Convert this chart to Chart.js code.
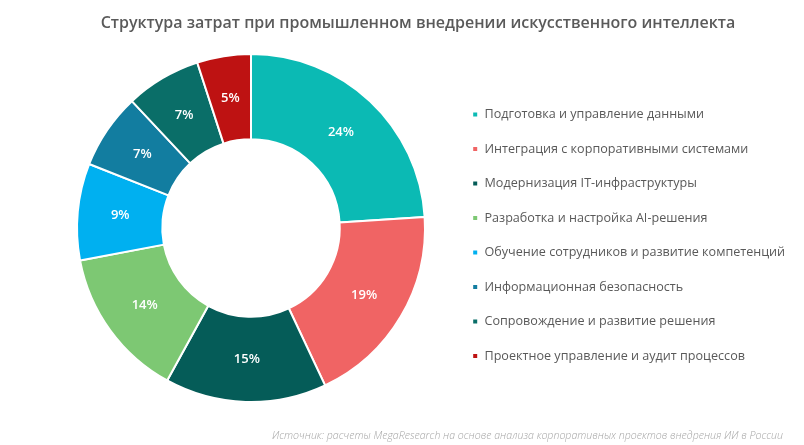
<!DOCTYPE html>
<html>
<head>
<meta charset="utf-8">
<script src="https://cdn.jsdelivr.net/npm/chart.js@4.4.1/dist/chart.umd.min.js"></script>
<style>
  html, body { margin: 0; padding: 0; background: #ffffff; }
  #wrap { position: relative; width: 804px; height: 445px; overflow: hidden; }
  #chart { position: absolute; left: 0; top: 0; }
  #title {
    position: absolute; top: 11px; left: 418px; transform: translateX(-50%);
    white-space: nowrap; font-family: "Open Sans", sans-serif; font-weight: 600;
    font-size: 16px; line-height: 22px; color: #5a5a5a;
  }
  #source {
    position: absolute; top: 428px; right: 21px; white-space: nowrap;
    font-family: "Open Sans", sans-serif; font-style: italic; font-weight: 300;
    font-size: 10.6px; line-height: 15px; color: #a6a6a6;
  }
</style>
</head>
<body>
<div id="wrap">
  <canvas id="chart" width="804" height="445"></canvas>
  <div id="title"></div>
  <div id="source"></div>
</div>
<script>
const chartTitle = "Структура затрат при промышленном внедрении искусственного интеллекта";
const sourceNote = "Источник: расчеты MegaResearch на основе анализа корпоративных проектов внедрения ИИ в России";
const categories = [
  "Подготовка и управление данными",
  "Интеграция с корпоративными системами",
  "Модернизация IT-инфраструктуры",
  "Разработка и настройка AI-решения",
  "Обучение сотрудников и развитие компетенций",
  "Информационная безопасность",
  "Сопровождение и развитие решения",
  "Проектное управление и аудит процессов"
];
const shares = [24, 19, 15, 14, 9, 7, 7, 5];
const sliceColors = ["#0bbab4", "#f06464", "#055c58", "#7dc873", "#00b0f0", "#127da0", "#0a6e68", "#be1212"];

document.getElementById('title').textContent = chartTitle;
document.getElementById('source').textContent = sourceNote;

const legendFontSize = 12.6;
const legendFont = "Open Sans";
const legendPad = 34.5 - legendFontSize;
const boxW = 6;

// measure legend text width to place the legend box at a fixed left edge
const mctx = document.createElement('canvas').getContext('2d');
mctx.font = legendFontSize + 'px "' + legendFont + '"';
let maxTextW = 0;
categories.forEach(c => { maxTextW = Math.max(maxTextW, mctx.measureText(c).width); });
const textStart = 484;
const legendLeft = textStart - legendPad - boxW - legendFontSize / 2 + 0.5;
const legendWidth = legendPad + boxW + legendFontSize / 2 + maxTextW + 10;
let padRight = 804 - legendLeft - legendWidth;
if (padRight < 0) padRight = 0;
const centerX = 251;
const padLeft = 2 * centerX - legendLeft;

const sliceLabels = {
  id: 'sliceLabels',
  afterDatasetsDraw(chart) {
    const ctx = chart.ctx;
    const meta = chart.getDatasetMeta(0);
    ctx.save();
    ctx.fillStyle = '#ffffff';
    ctx.font = '600 13px "Open Sans"';
    ctx.textAlign = 'center';
    ctx.textBaseline = 'middle';
    meta.data.forEach((arc, i) => {
      const p = arc.tooltipPosition(true);
      ctx.fillText(shares[i] + '%', p.x, p.y);
    });
    ctx.restore();
  }
};

new Chart(document.getElementById('chart'), {
  type: 'doughnut',
  data: {
    labels: categories,
    datasets: [{
      data: shares,
      backgroundColor: sliceColors,
      borderColor: '#ffffff',
      borderWidth: 2
    }]
  },
  options: {
    responsive: false,
    animation: false,
    cutout: '51%',
    layout: { padding: { top: 53, bottom: 42, left: padLeft, right: padRight } },
    plugins: {
      tooltip: { enabled: false },
      title: { display: false },
      legend: {
        position: 'right',
        align: 'center',
        maxWidth: 804 - legendLeft,
        title: { display: true, text: ' ', font: { size: 10, lineHeight: 1 }, padding: { top: 4.5, bottom: 0 } },
        labels: {
          boxWidth: boxW,
          boxHeight: boxW,
          padding: legendPad,
          color: '#595959',
          font: { family: legendFont, size: legendFontSize }
        }
      }
    }
  },
  plugins: [sliceLabels]
});
</script>
</body>
</html>
